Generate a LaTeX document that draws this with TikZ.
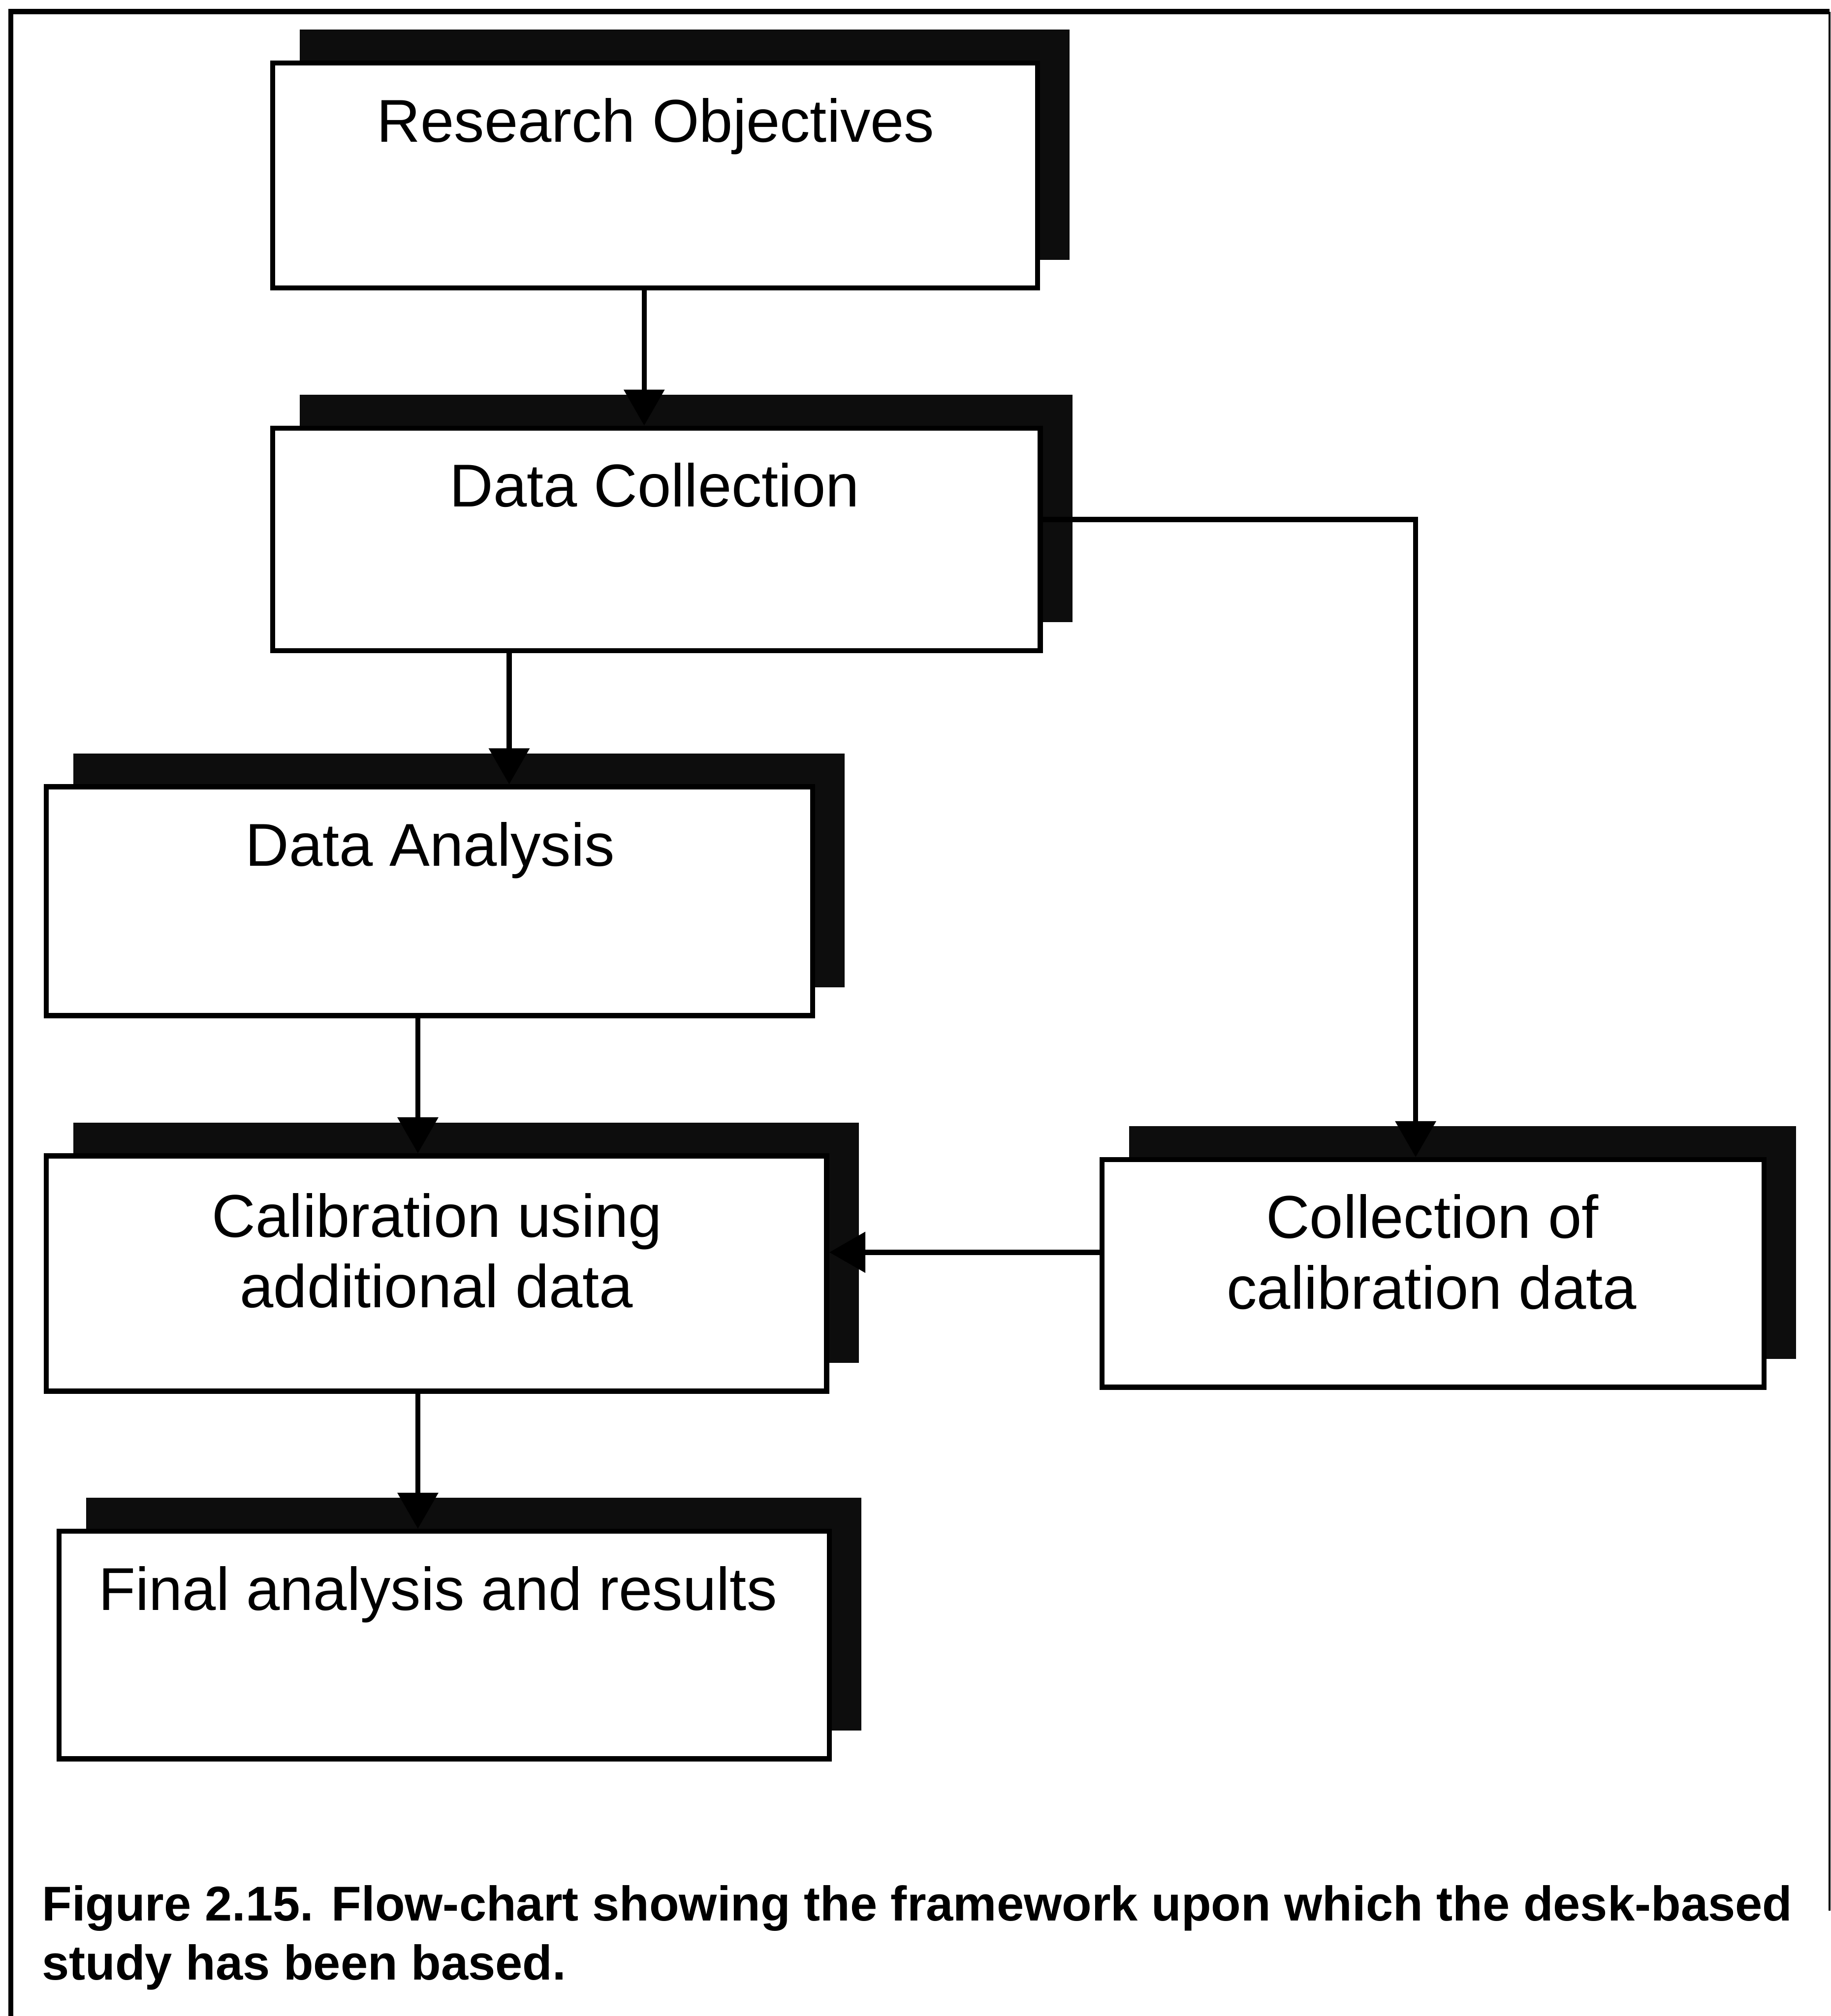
\documentclass[tikz,border=0pt]{standalone}
\usepackage{fontspec}
\setmainfont{Liberation Sans}
\usetikzlibrary{arrows.meta,backgrounds}
\tikzset{
  box/.style={draw=black, line width=4pt, fill=white, inner sep=0pt, outer sep=2pt},
  shadowfill/.style={fill=black!95},
  lbl/.style={anchor=base, inner sep=0pt, font=\fontsize{47}{56}\selectfont},
  captxt/.style={anchor=base west, inner sep=0pt, font=\fontsize{38}{46}\selectfont\bfseries},
  conn/.style={draw=black, line width=4pt, -{Triangle[width=31pt,length=28pt]}},
  frame/.style={draw=black, line width=4pt},
}
\begin{document}
\begin{tikzpicture}[x=1pt,y=-1pt]
\useasboundingbox (0,0) rectangle (1424,1568);

% outer frame
\draw[frame] (8.5,1568) -- (8.5,9) -- (1423,9);
\draw[draw=black, line width=1.5pt] (1423,9) -- (1423,1486);

% boxes
\node[box, minimum width=595pt, minimum height=175pt] (B1) at (509.5,136.5) {};
\node[box, minimum width=597pt, minimum height=173pt] (B2) at (510.5,419.5) {};
\node[box, minimum width=596pt, minimum height=178pt] (B3) at (334,701) {};
\node[box, minimum width=607pt, minimum height=183pt] (B4) at (339.5,990.5) {};
\node[box, minimum width=515pt, minimum height=177pt] (B5) at (1114.5,990.5) {};
\node[box, minimum width=599pt, minimum height=177pt] (B6) at (345.5,1279.5) {};

% shadows
\begin{scope}[on background layer]
\foreach \b in {B1,B2,B3,B4,B5,B6}{
  \fill[shadowfill] ([shift={(23pt,24pt)}]\b.south west) rectangle ([shift={(23pt,24pt)}]\b.north east);
}
\end{scope}

% labels
\node[lbl] (T1) at (510,110.5) {Research Objectives};
\node[lbl] (T2) at (509,394) {Data Collection};
\node[lbl] (T3) at (334.5,673.5) {Data Analysis};
\node[lbl] (T4a) at (340,962) {Calibration using};
\node[lbl] (T4b) at (339.5,1017) {additional data};
\node[lbl] (T5a) at (1114,963) {Collection of};
\node[lbl] (T5b) at (1113.5,1018) {calibration data};
\node[lbl] (T6) at (340.5,1252.5) {Final analysis and results};

% connector coordinates
\coordinate (xa) at (501,0);
\coordinate (xb) at (396,0);
\coordinate (xc) at (325,0);
\coordinate (bend) at (1101,404);
\coordinate (ycal) at (0,974);

\draw[conn] (B1.south -| xa) -- (B2.north -| xa);
\draw[conn] (B2.south -| xb) -- (B3.north -| xb);
\draw[conn] (B3.south -| xc) -- (B4.north -| xc);
\draw[conn] (B4.south -| xc) -- (B6.north -| xc);
\draw[conn] (bend -| B2.east) -- (bend) -- (bend |- B5.north);
\draw[conn] (B5.west |- ycal) -- (B4.east |- ycal);

% caption
\node[captxt] (C1) at (32.5,1494) {Figure 2.15. Flow-chart showing the framework upon which the desk-based};
\node[captxt] (C2) at (32.5,1540) {study has been based.};
\end{tikzpicture}
\end{document}
